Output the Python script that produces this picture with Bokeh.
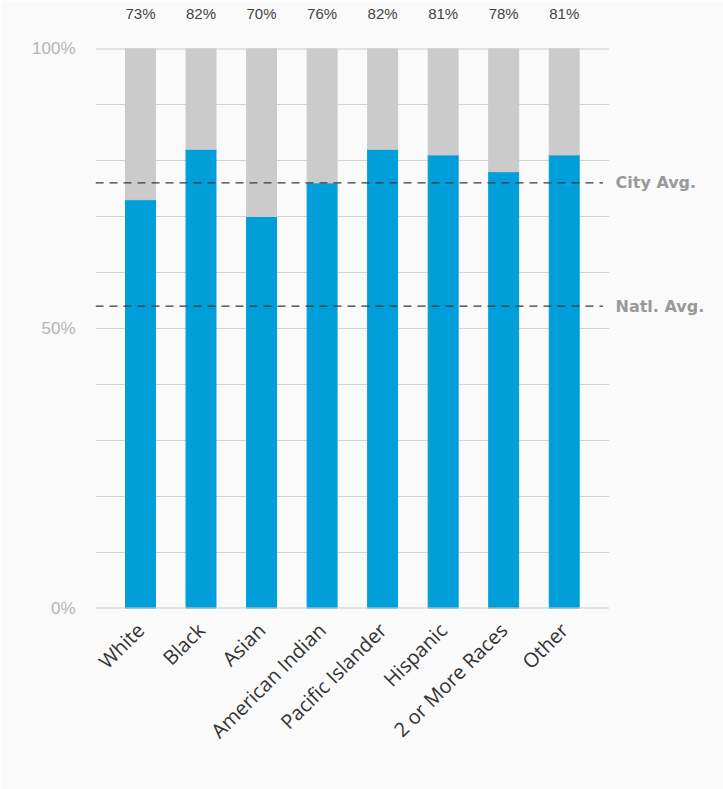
from bokeh.plotting import figure
from bokeh.models import Range1d, FixedTicker, LinearAxis
from bokeh.embed import file_html
from bokeh.resources import INLINE

categories = ["White", "Black", "Asian", "American Indian", "Pacific Islander",
              "Hispanic", "2 or More Races", "Other"]
values = [73, 82, 70, 76, 82, 81, 78, 81]
top_labels = ["73%", "82%", "70%", "76%", "82%", "81%", "78%", "81%"]
ref_values = [76, 54]
ref_labels = ["City Avg.", "Natl. Avg."]
y_ticks = [0, 50, 100]
y_tick_labels = ["0%", "50%", "100%"]

BG = "#fafafa"
xs = list(range(len(categories)))
X0, X1 = -0.743, 7.748

p = figure(width=723, height=789, output_backend="svg", toolbar_location=None,
           x_range=Range1d(X0, X1), y_range=Range1d(0, 100),
           min_border_left=95, min_border_right=114, min_border_top=48,
           min_border_bottom=181, background_fill_color=BG, border_fill_color=BG,
           outline_line_color=None)

# grid
p.xgrid.visible = False
p.ygrid.ticker = FixedTicker(ticks=list(range(0, 101, 10)))
p.ygrid.grid_line_color = "#d2d2d2"
p.ygrid.grid_line_width = 1

# bars
p.vbar(x=xs, bottom=0, top=values, width=0.495, color="#009fd9")
p.vbar(x=xs, bottom=values, top=100, width=0.495, color="#cbcbcb")

# top/bottom frame lines
p.segment(x0=[X0, X0], x1=[X1, X1], y0=[0, 100], y1=[0, 100],
          line_color="#cccccc", line_width=2)

# reference dashed lines
p.segment(x0=[X0] * 2, x1=[7.64] * 2, y0=ref_values, y1=ref_values,
          line_color="#3a3a3a", line_width=1.3, line_dash="8 6")

# left axis
yax = p.yaxis[0]
yax.ticker = FixedTicker(ticks=y_ticks)
yax.major_label_overrides = {t: l for t, l in zip(y_ticks, y_tick_labels)}
yax.axis_line_color = None
yax.major_tick_line_color = None
yax.minor_tick_line_color = None
yax.major_label_text_color = "#b5b5b5"
yax.major_label_text_font = "Liberation Sans"
yax.major_label_text_font_size = "17px"
yax.major_label_standoff = 14

# bottom axis
xax = p.xaxis[0]
xax.ticker = FixedTicker(ticks=xs)
xax.major_label_overrides = {i: c for i, c in zip(xs, categories)}
xax.major_label_orientation = 0.785398
xax.axis_line_color = None
xax.major_tick_line_color = None
xax.minor_tick_line_color = None
xax.major_label_text_color = "#333333"
xax.major_label_text_font = "Open Sans"
xax.major_label_text_font_size = "20px"
xax.major_label_standoff = 12

# top axis with percent labels
tax = LinearAxis(ticker=FixedTicker(ticks=xs),
                 major_label_overrides={i: l for i, l in zip(xs, top_labels)})
tax.axis_line_color = None
tax.major_tick_line_color = None
tax.minor_tick_line_color = None
tax.major_label_text_color = "#444444"
tax.major_label_text_font = "Liberation Sans"
tax.major_label_text_font_size = "15px"
tax.major_label_standoff = 21
p.add_layout(tax, "above")

# right axis with reference labels
rax = LinearAxis(ticker=FixedTicker(ticks=ref_values),
                 major_label_overrides={v: l for v, l in zip(ref_values, ref_labels)})
rax.axis_line_color = None
rax.major_tick_line_color = None
rax.minor_tick_line_color = None
rax.major_label_text_color = "#999999"
rax.major_label_text_font = "DejaVu Sans"
rax.major_label_text_font_style = "bold"
rax.major_label_text_font_size = "16px"
rax.major_label_standoff = 0
p.add_layout(rax, "right")

open("out.html", "w").write(file_html(p, INLINE))
